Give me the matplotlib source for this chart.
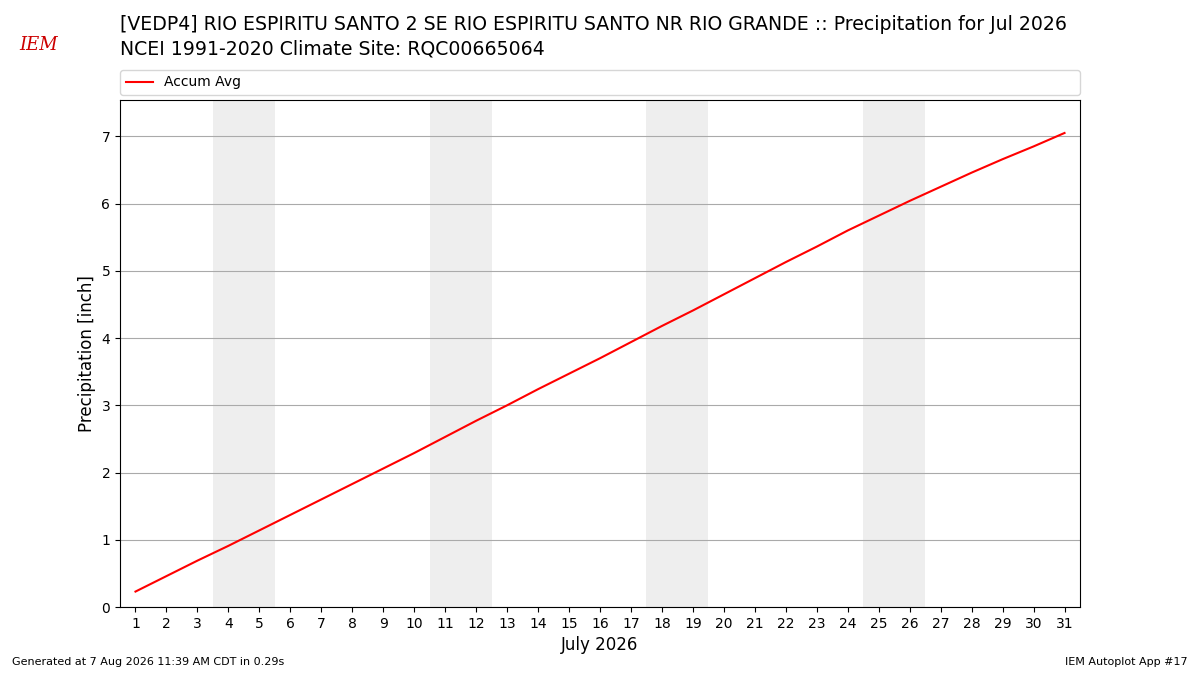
import numpy as np
import matplotlib.pyplot as plt

# Datos
days = list(range(1, 32))
accum_avg = [0.23, 0.46, 0.69, 0.91, 1.14, 1.37, 1.60, 1.83, 2.06, 2.29,
             2.53, 2.77, 3.00, 3.24, 3.47, 3.70, 3.94, 4.18, 4.41, 4.65,
             4.89, 5.13, 5.36, 5.60, 5.82, 6.04, 6.25, 6.46, 6.66, 6.85,
             7.05]
weekends = [(3.5, 5.5), (10.5, 12.5), (17.5, 19.5), (24.5, 26.5)]

title = ("[VEDP4] RIO ESPIRITU SANTO 2 SE RIO ESPIRITU SANTO NR RIO GRANDE "
         ":: Precipitation for Jul 2026\nNCEI 1991-2020 Climate Site: RQC00665064")

fig = plt.figure(figsize=(12, 6.75), dpi=100, facecolor="white")
ax = fig.add_axes([0.1, 0.1007, 0.8, 0.7511])

for x0, x1 in weekends:
    ax.axvspan(x0, x1, color="#eeeeee", zorder=0, lw=0)

ax.plot(days, accum_avg, c="red", lw=1.5, label="Accum Avg", zorder=3)

ax.set_xlim(0.5, 31.5)
ax.set_ylim(0, 7.54)
ax.set_xticks(days)
ax.set_yticks(range(0, 8))
ax.grid(True, axis="y", color="#aaaaaa", lw=0.8)
ax.set_axisbelow(True)
ax.set_xlabel("July 2026", fontsize=12)
ax.set_ylabel("Precipitation [inch]", fontsize=12)
ax.tick_params(labelsize=10)

ax.legend(loc="lower left", bbox_to_anchor=(0, 1.01, 1, 0.05), mode="expand",
          borderaxespad=0, fontsize=10, ncol=1)

fig.text(0.1, 1 - 15 / 675, title, fontsize=13.6, va="top", ha="left",
         linespacing=1.35)

# Logo aproximado
fig.text(0.032, 0.933, "IEM", color="#cc0000", fontsize=13, family="serif",
         style="italic", ha="center", va="center")

fig.text(0.01, 0.015, "Generated at 7 Aug 2026 11:39 AM CDT in 0.29s", fontsize=8)
fig.text(0.99, 0.015, "IEM Autoplot App #17", fontsize=8, ha="right")

fig.savefig("out.png", dpi=100)
